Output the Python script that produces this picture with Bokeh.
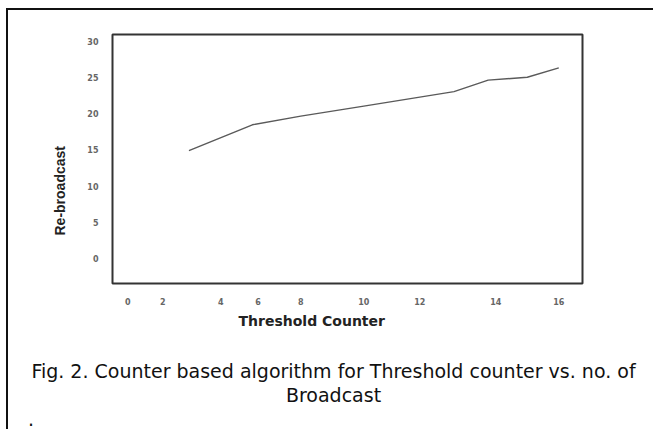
import numpy as np
from bokeh.plotting import figure
from bokeh.layouts import column
from bokeh.models import FixedTicker, Range1d, Title, Div
from bokeh.embed import file_html
from bokeh.resources import INLINE

# ---- data ----
threshold = [2.9, 5.7, 8.0, 10.0, 12.9, 13.8, 15.0, 16.2]
rebroadcast = [14.9, 18.5, 19.7, 21.1, 23.1, 24.7, 25.1, 26.4]

x_tick_values = [0, 2, 4, 6, 8, 10, 12, 14, 16]
x_tick_labels = ["0", "2", "4", "6", "8", "10", "12", "14", "16"]
y_tick_values = [0, 5, 10, 15, 20, 25, 30]

x_title = "Threshold Counter"
y_title = "Re-broadcast"
caption_lines = ["Fig. 2. Counter based algorithm for Threshold counter vs. no. of",
                 "Broadcast"]

# the original x axis is drawn with unevenly spaced ticks;
# axis positions of each tick (piecewise scale of the original figure)
x_axis_pos = [0.0, 1.30, 3.45, 4.83, 6.42, 8.76, 10.84, 13.66, 16.0]

line_x = np.interp(threshold, x_tick_values, x_axis_pos)

p = figure(width=645, height=329, output_backend="svg", toolbar_location=None,
           x_range=Range1d(-0.57, 16.88), y_range=Range1d(-3.54, 31.04),
           min_border_left=104, min_border_right=71, min_border_top=24,
           min_border_bottom=56, margin=0)

p.grid.visible = False
p.outline_line_color = "#333333"
p.outline_line_width = 2
p.background_fill_color = "white"
p.border_fill_color = "white"

for ax in (p.xaxis[0], p.yaxis[0]):
    ax.axis_line_color = None
    ax.major_tick_line_color = None
    ax.minor_tick_line_color = None
    ax.major_tick_out = 0
    ax.major_tick_in = 0
    ax.major_label_text_font = "DejaVu Sans"
    ax.major_label_text_font_style = "bold"
    ax.major_label_text_font_size = "8px"
    ax.major_label_text_color = "#666666"
    ax.major_label_standoff = 14

p.xaxis.ticker = FixedTicker(ticks=x_axis_pos)
p.xaxis.major_label_overrides = {pos: lab for pos, lab in zip(x_axis_pos, x_tick_labels)}
p.yaxis.ticker = FixedTicker(ticks=y_tick_values)

p.line(line_x, rebroadcast, line_color="#5a5a5a", line_width=1.4)

p.add_layout(Title(text=y_title, align="left", offset=48, standoff=33,
                   vertical_align="bottom", text_font="Liberation Sans",
                   text_font_style="bold", text_font_size="14px",
                   text_color="#222222"), "left")
p.add_layout(Title(text=x_title, align="left", offset=126, standoff=7,
                   vertical_align="bottom", text_font="DejaVu Sans",
                   text_font_style="bold", text_font_size="14px",
                   text_color="#222222"), "below")

cap_style = ("font-family:'DejaVu Sans';font-size:19px;line-height:24px;"
             "color:#111111;white-space:nowrap;box-sizing:border-box;width:645px;")
html = (f'<div style="{cap_style}text-align:center;padding:20px 0 0 6px;">'
        f'{caption_lines[0]}<br>{caption_lines[1]}</div>'
        f'<div style="{cap_style}text-align:left;padding-left:20px;">.</div>')
cap = Div(text=html, width=645, height=90, margin=0)

layout = column(p, cap, spacing=0,
                styles={"margin-left": "6px", "margin-top": "8px",
                        "border-top": "2px solid #111", "border-left": "2px solid #111"})

open("out.html", "w").write(file_html(layout, INLINE))
